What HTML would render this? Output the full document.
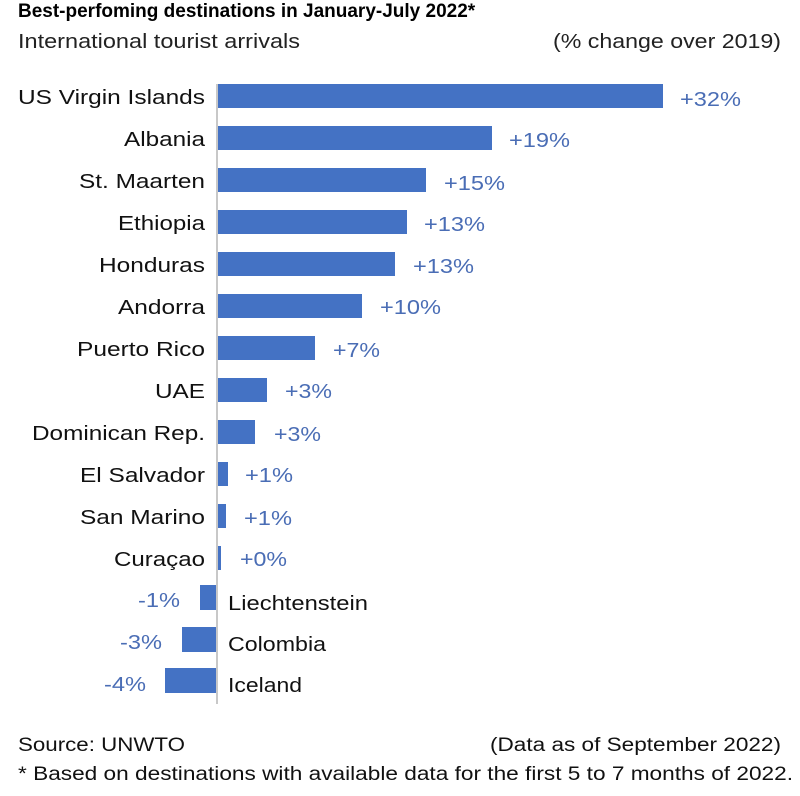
<!DOCTYPE html>
<html><head><meta charset="utf-8"><style>
body{margin:0;background:#fff;width:800px;height:791px;overflow:hidden}
text{font-family:"Liberation Sans",Arial,sans-serif}
</style></head><body>
<svg width="800" height="791" viewBox="0 0 800 791" xmlns="http://www.w3.org/2000/svg">
<text x="18" y="17" font-size="19" font-weight="bold" fill="#000">Best-perfoming destinations in January-July 2022*</text>
<text x="18" y="48" font-size="20" fill="#222" textLength="282" lengthAdjust="spacingAndGlyphs">International tourist arrivals</text>
<text x="553" y="48" font-size="20" fill="#222" textLength="228" lengthAdjust="spacingAndGlyphs">(% change over 2019)</text>
<line x1="217" y1="84" x2="217" y2="704" stroke="#c8c8c8" stroke-width="2"/>
<g fill="#4472C4">
<rect x="218" y="84" width="445" height="24"/>
<rect x="218" y="126" width="274" height="24"/>
<rect x="218" y="168" width="208" height="24"/>
<rect x="218" y="210" width="189" height="24"/>
<rect x="218" y="252" width="177" height="24"/>
<rect x="218" y="294" width="144" height="24"/>
<rect x="218" y="336" width="97" height="24"/>
<rect x="218" y="378" width="49" height="24"/>
<rect x="218" y="420" width="37" height="24"/>
<rect x="218" y="462" width="10" height="24"/>
<rect x="218" y="504" width="8" height="24"/>
<rect x="218" y="546" width="3" height="24"/>
<rect x="200" y="585" width="16" height="25"/>
<rect x="182" y="627" width="34" height="25"/>
<rect x="165" y="668" width="51" height="25"/>
</g>
<g font-size="20" fill="#111" lengthAdjust="spacingAndGlyphs">
<text x="18" y="104" textLength="187" lengthAdjust="spacingAndGlyphs">US Virgin Islands</text>
<text x="124" y="146" textLength="81" lengthAdjust="spacingAndGlyphs">Albania</text>
<text x="79" y="188" textLength="126" lengthAdjust="spacingAndGlyphs">St. Maarten</text>
<text x="118" y="230" textLength="87" lengthAdjust="spacingAndGlyphs">Ethiopia</text>
<text x="99" y="272" textLength="106" lengthAdjust="spacingAndGlyphs">Honduras</text>
<text x="118" y="314" textLength="87" lengthAdjust="spacingAndGlyphs">Andorra</text>
<text x="77" y="356" textLength="128" lengthAdjust="spacingAndGlyphs">Puerto Rico</text>
<text x="155" y="398" textLength="50" lengthAdjust="spacingAndGlyphs">UAE</text>
<text x="32" y="440" textLength="173" lengthAdjust="spacingAndGlyphs">Dominican Rep.</text>
<text x="80" y="482" textLength="125" lengthAdjust="spacingAndGlyphs">El Salvador</text>
<text x="80" y="524" textLength="125" lengthAdjust="spacingAndGlyphs">San Marino</text>
<text x="114" y="566" textLength="91" lengthAdjust="spacingAndGlyphs">Curaçao</text>
<text x="228" y="610" textLength="140" lengthAdjust="spacingAndGlyphs">Liechtenstein</text>
<text x="228" y="651" textLength="98" lengthAdjust="spacingAndGlyphs">Colombia</text>
<text x="228" y="692" textLength="74" lengthAdjust="spacingAndGlyphs">Iceland</text>
</g>
<g font-size="20" fill="#4a6db5">
<text x="680" y="106" textLength="61" lengthAdjust="spacingAndGlyphs">+32%</text>
<text x="509" y="147" textLength="61" lengthAdjust="spacingAndGlyphs">+19%</text>
<text x="444" y="190" textLength="61" lengthAdjust="spacingAndGlyphs">+15%</text>
<text x="424" y="231" textLength="61" lengthAdjust="spacingAndGlyphs">+13%</text>
<text x="413" y="273" textLength="61" lengthAdjust="spacingAndGlyphs">+13%</text>
<text x="380" y="314" textLength="61" lengthAdjust="spacingAndGlyphs">+10%</text>
<text x="333" y="357" textLength="47" lengthAdjust="spacingAndGlyphs">+7%</text>
<text x="285" y="398" textLength="47" lengthAdjust="spacingAndGlyphs">+3%</text>
<text x="274" y="441" textLength="47" lengthAdjust="spacingAndGlyphs">+3%</text>
<text x="245" y="482" textLength="48" lengthAdjust="spacingAndGlyphs">+1%</text>
<text x="244" y="525" textLength="48" lengthAdjust="spacingAndGlyphs">+1%</text>
<text x="240" y="566" textLength="47" lengthAdjust="spacingAndGlyphs">+0%</text>
<text x="138" y="607" textLength="42" lengthAdjust="spacingAndGlyphs">-1%</text>
<text x="120" y="649" textLength="42" lengthAdjust="spacingAndGlyphs">-3%</text>
<text x="104" y="691" textLength="42" lengthAdjust="spacingAndGlyphs">-4%</text>
</g>
<text x="18" y="751" font-size="19" fill="#111" textLength="167" lengthAdjust="spacingAndGlyphs">Source: UNWTO</text>
<text x="490" y="751" font-size="19" fill="#111" textLength="291" lengthAdjust="spacingAndGlyphs">(Data as of September 2022)</text>
<text x="18" y="780" font-size="19" fill="#111" textLength="775" lengthAdjust="spacingAndGlyphs">* Based on destinations with available data for the first 5 to 7 months of 2022.</text>
</svg>
</body></html>
